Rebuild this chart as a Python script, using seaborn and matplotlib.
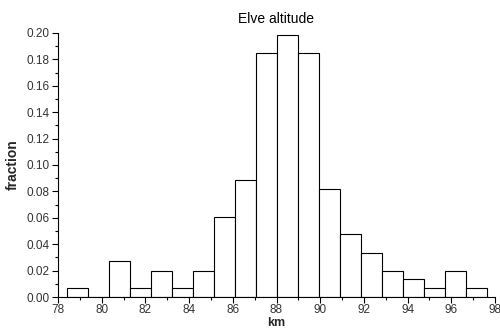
import numpy as np
import pandas as pd
import matplotlib
matplotlib.use('Agg')
import matplotlib.pyplot as plt
from matplotlib.ticker import MultipleLocator
import seaborn as sns

# data
bin_lo = 78.43
bin_hi = 97.65
n_bins = 20
fractions = [0.0066, 0.0, 0.0270, 0.0066, 0.0200, 0.0066, 0.0200, 0.0610, 0.0890, 0.1850,
             0.1985, 0.1850, 0.0820, 0.0478, 0.0337, 0.0200, 0.0134, 0.0066, 0.0200, 0.0066]

edges = np.linspace(bin_lo, bin_hi, n_bins + 1)
centers = (edges[:-1] + edges[1:]) / 2
df = pd.DataFrame({'km': centers, 'fraction': fractions})

sns.set_style('white')
plt.rcParams['font.family'] = ['Liberation Sans', 'DejaVu Sans']

fig = plt.figure(figsize=(5, 3.29), dpi=100)
ax = fig.add_axes([0.116, 0.097, 0.874, 0.803])
sns.histplot(data=df, x='km', weights='fraction', bins=n_bins, binrange=(bin_lo, bin_hi),
             stat='count', color='white', edgecolor='black', linewidth=0.8, alpha=1, ax=ax)

ax.set_xlim(78, 98)
ax.set_ylim(0, 0.2)
ax.xaxis.set_major_locator(MultipleLocator(2))
ax.xaxis.set_minor_locator(MultipleLocator(1))
ax.yaxis.set_major_locator(MultipleLocator(0.02))
ax.yaxis.set_minor_locator(MultipleLocator(0.01))
ax.yaxis.set_major_formatter(matplotlib.ticker.FormatStrFormatter('%.2f'))
ax.tick_params(which='both', direction='out', bottom=True, left=True, colors='black',
               labelcolor='#333333', labelsize=8.5)
ax.tick_params(which='major', length=4, width=0.8, pad=2)
ax.tick_params(axis='x', which='major', pad=1)
ax.tick_params(which='minor', length=2.5, width=0.8)
for s in ['top', 'right']:
    ax.spines[s].set_visible(False)
for s in ['left', 'bottom']:
    ax.spines[s].set_color('black')
    ax.spines[s].set_linewidth(0.8)

ax.set_title('Elve altitude', fontsize=10, color='black', pad=7)
ax.set_xlabel('km', fontsize=9, fontweight='bold', labelpad=0.5)
ax.set_ylabel('fraction', fontsize=10, fontweight='bold', labelpad=5)

fig.savefig('out.png', dpi=100)
